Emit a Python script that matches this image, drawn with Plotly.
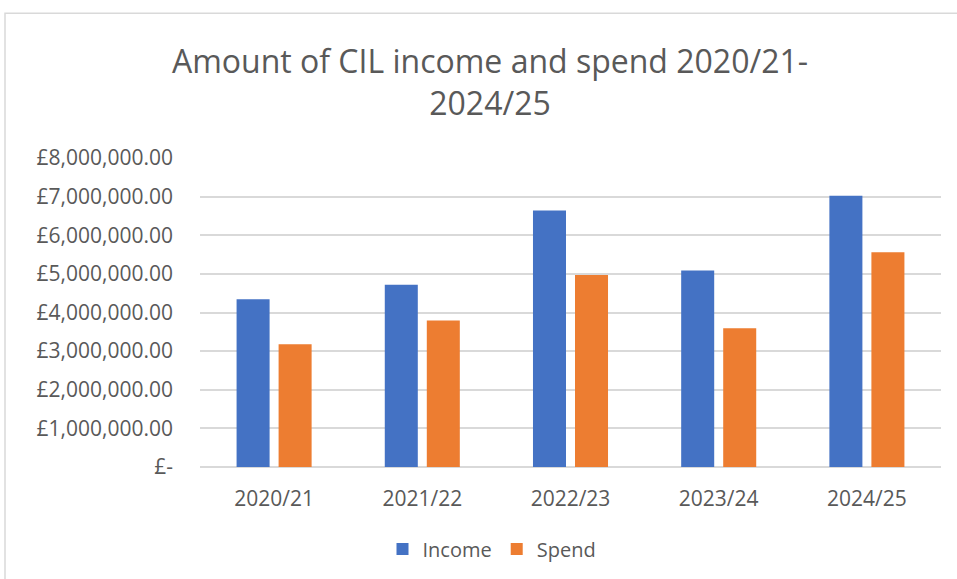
import plotly.graph_objects as go

# Community Infrastructure Levy: annual income and spend (GBP)
years = ["2020/21", "2021/22", "2022/23", "2023/24", "2024/25"]
income = [4340000, 4720000, 6640000, 5090000, 7020000]
spend = [3180000, 3790000, 4970000, 3590000, 5560000]

y_ticks = [0, 1000000, 2000000, 3000000, 4000000, 5000000, 6000000, 7000000, 8000000]
y_tick_labels = ["£-", "£1,000,000.00", "£2,000,000.00", "£3,000,000.00",
                 "£4,000,000.00", "£5,000,000.00", "£6,000,000.00",
                 "£7,000,000.00", "£8,000,000.00"]

BLUE = "#4472C4"
ORANGE = "#ED7D31"
TEXT = "#595959"
GRID = "#D9D9D9"
FONT = "Open Sans"

fig = go.Figure()
fig.add_trace(go.Bar(name="Income", x=years, y=income, marker_color=BLUE,
                     marker_line_width=0))
fig.add_trace(go.Bar(name="Spend", x=years, y=spend, marker_color=ORANGE,
                     marker_line_width=0))

fig.update_layout(
    width=957, height=579,
    margin=dict(l=200, r=16, t=158, b=112),
    paper_bgcolor="white", plot_bgcolor="white",
    barmode="group", bargap=0.433, bargroupgap=0.214,
    font=dict(family=FONT, color=TEXT),
    title=dict(text="Amount of CIL income and spend 2020/21-<br>2024/25",
               x=490 / 957, xref="container", xanchor="center",
               y=1 - 73 / 579, yref="container", yanchor="middle",
               font=dict(size=32, color=TEXT, family=FONT)),
    showlegend=True,
    legend=dict(orientation="h", xref="container", x=492 / 957, xanchor="center",
                yref="container", y=1 - 549 / 579, yanchor="middle",
                font=dict(size=20, color=TEXT), traceorder="normal"),
)

fig.update_yaxes(range=[0, 8000000], tickvals=y_ticks, ticktext=y_tick_labels,
                 showgrid=True, gridcolor=GRID, gridwidth=1.5,
                 zeroline=True, zerolinecolor=GRID, zerolinewidth=1.5,
                 showline=False, ticks="", ticklabelstandoff=26,
                 tickfont=dict(size=21, color=TEXT))
fig.update_xaxes(showgrid=False, showline=False, ticks="",
                 ticklabelstandoff=17, tickfont=dict(size=21, color=TEXT))

# light outline around the chart area
fig.add_shape(type="rect", xref="paper", yref="paper",
              x0=(5 - 200) / 741, x1=(965 - 200) / 741,
              y0=(466.7 - 590) / 309, y1=(466.7 - 13) / 309,
              line=dict(color=GRID, width=1.5), fillcolor="rgba(0,0,0,0)",
              layer="below")

fig.write_html("out.html")
